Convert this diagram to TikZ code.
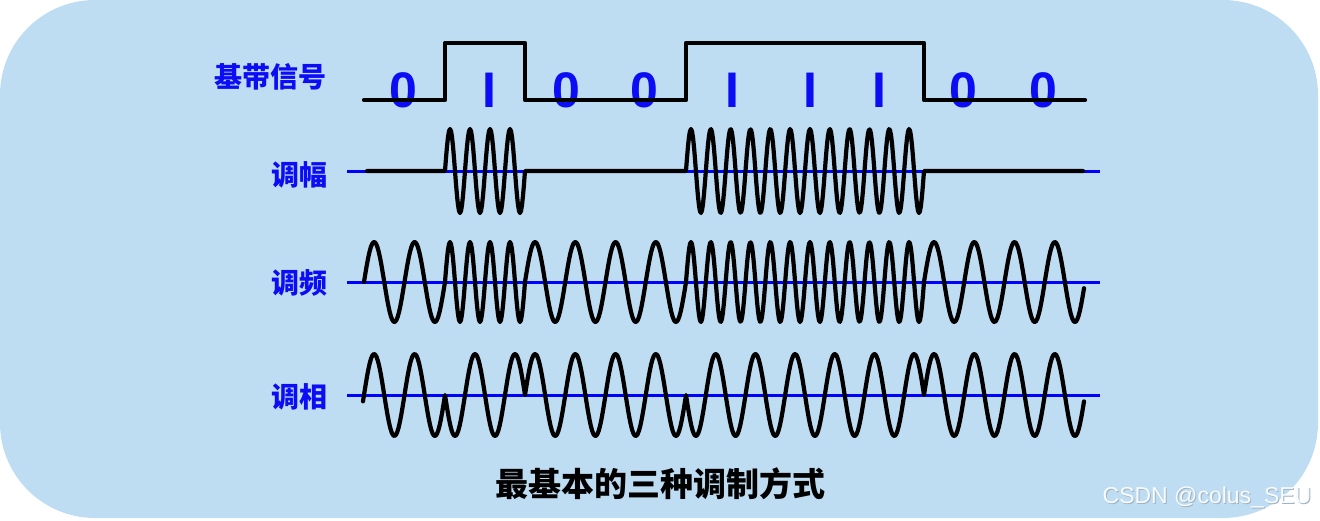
\documentclass[tikz,border=0pt]{standalone}
\usepackage{fontspec}
\newfontfamily\cjk{Noto Sans CJK SC}
\newfontfamily\latinsans{Liberation Sans}
\definecolor{bg}{RGB}{190,221,243}
\definecolor{lblblue}{RGB}{12,12,245}
\definecolor{lineblue}{RGB}{0,0,255}
\begin{document}
\begin{tikzpicture}[x=1pt,y=-1pt,
  wave/.style={line width=4.2pt, line cap=round, line join=round, black},
  axisline/.style={lineblue, line width=3pt},
  lbl/.style={font=\cjk\bfseries\fontsize{28}{30}\selectfont, text=lblblue, inner sep=0pt},
  bitlbl/.style={font=\latinsans\bfseries\fontsize{50}{52}\selectfont, text=lblblue, inner sep=0pt}]
\useasboundingbox (0,0) rectangle (1320,520);
\fill[bg, rounded corners=95pt] (0,0) rectangle (1318,518);

% labels
\node[lbl] (lbase) at (270,77) {基带信号};
\node[lbl] (lam) at (299,175) {调幅};
\node[lbl] (lfm) at (299,283) {调频};
\node[lbl] (lpm) at (299,397) {调相};
\node[font=\cjk\bfseries\fontsize{33}{36}\selectfont, text=black, inner sep=0pt] (title) at (660,484) {最基本的三种调制方式};

% watermark
\node[font=\latinsans\fontsize{23}{26}\selectfont, text=gray!45!bg, inner sep=0pt] (wms) at (1208,498) {CSDN @colus\_SEU};
\node[font=\latinsans\fontsize{23}{26}\selectfont, text=white!88!bg, inner sep=0pt] (wm) at (1207,497) {CSDN @colus\_SEU};

% bit labels
\node[bitlbl] (b1) at (403,90) {0};
\node[bitlbl] (b2) at (489,90) {I};
\node[bitlbl] (b3) at (566,90) {0};
\node[bitlbl] (b4) at (644,90) {0};
\node[bitlbl] (b5) at (732,90) {I};
\node[bitlbl] (b6) at (810,90) {I};
\node[bitlbl] (b7) at (879,90) {I};
\node[bitlbl] (b8) at (963,90) {0};
\node[bitlbl] (b9) at (1043,90) {0};

% baseband signal
\draw[wave] (364,100) -- (445,100) -- (445,43) -- (525,43) -- (525,100)
  -- (686,100) -- (686,43) -- (924,43) -- (924,100) -- (1085,100);

% axes
\coordinate (amA) at (347,171); \coordinate (amB) at (1100,171);
\coordinate (fmA) at (347,282); \coordinate (fmB) at (1100,282);
\coordinate (pmA) at (347,395); \coordinate (pmB) at (1100,395);
\draw[axisline] (amA) -- (amB);
\draw[axisline] (fmA) -- (fmB);
\draw[axisline] (pmA) -- (pmB);

% AM
\draw[wave] (367,171) -- (445,171)
  -- plot[domain=445:525, samples=81] (\x,{171-42*sin((\x-445)/80*1440)})
  -- (686,171)
  -- plot[domain=686:924, samples=239] (\x,{171-42*sin((\x-686)/238*4320)})
  -- (1083,171);

% FM
\draw[wave] plot[domain=364:445, samples=61] (\x,{282-40*sin((\x-364)/81*720)})
  -- plot[domain=445:525, samples=81] (\x,{282-40*sin((\x-445)/80*1440)})
  -- plot[domain=525:686, samples=121] (\x,{282-40*sin((\x-525)/161*1440)})
  -- plot[domain=686:924, samples=239] (\x,{282-40*sin((\x-686)/238*4320)})
  -- plot[domain=924:1084, samples=121] (\x,{282-40*sin((\x-924)/161*1440)});

% PM
\draw[wave] plot[domain=363:445, samples=61] (\x,{395-41*sin((\x-364)/81*720)})
  -- plot[domain=445:525, samples=61] (\x,{395+41*sin((\x-445)/80*720)})
  -- plot[domain=525:686, samples=121] (\x,{395-41*sin((\x-525)/161*1440)})
  -- plot[domain=686:924, samples=181] (\x,{395+41*sin((\x-686)/238*2160)})
  -- plot[domain=924:1084, samples=121] (\x,{395-41*sin((\x-924)/161*1440)});
\end{tikzpicture}
\end{document}
